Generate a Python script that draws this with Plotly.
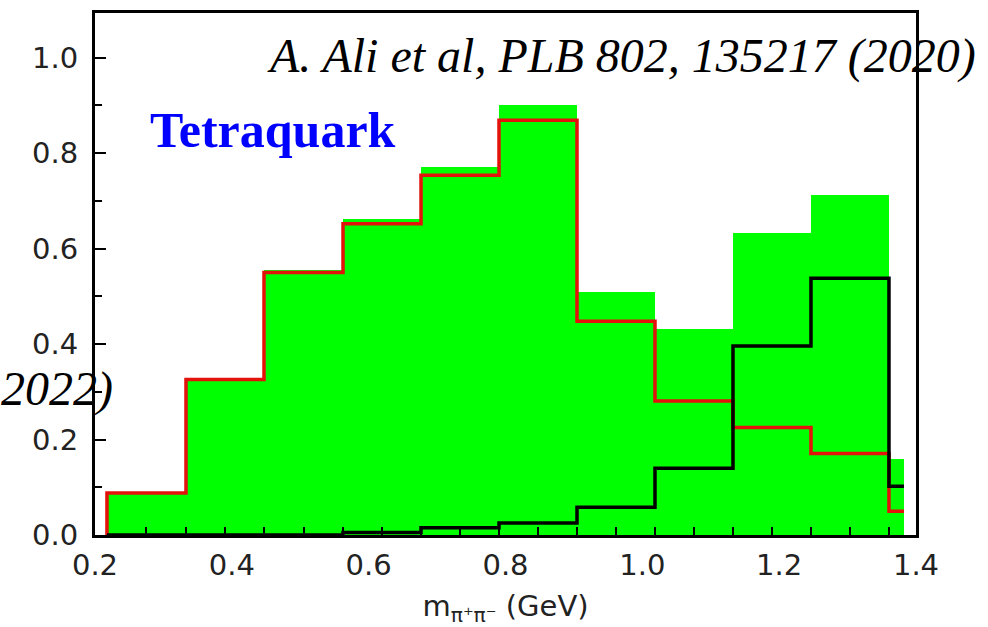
import plotly.graph_objects as go

# bin edges (GeV) of the histogram
edges = [0.2175, 0.333, 0.447, 0.5625, 0.6765, 0.7905, 0.9045, 1.0185, 1.1325, 1.2465, 1.3605, 1.3824]
# green filled histogram
green_vals = [0.090, 0.325, 0.556, 0.663, 0.771, 0.900, 0.510, 0.431, 0.633, 0.713, 0.160]
# red step line
red_vals = [0.088, 0.326, 0.550, 0.652, 0.754, 0.869, 0.448, 0.281, 0.225, 0.171, 0.050]
# black step line
black_vals = [0.0, 0.0, 0.0, 0.005, 0.015, 0.025, 0.058, 0.140, 0.396, 0.538, 0.102]

x_tick_labels = [0.2, 0.4, 0.6, 0.8, 1.0, 1.2, 1.4]
y_tick_labels = [0.0, 0.2, 0.4, 0.6, 0.8, 1.0]

centers = [(a + b) / 2 for a, b in zip(edges[:-1], edges[1:])]
widths = [b - a for a, b in zip(edges[:-1], edges[1:])]

def step_xy(vals):
    xs = [edges[0]] + edges[:-1] + [edges[-1]]
    ys = [0.0] + list(vals) + [vals[-1]]
    return xs, ys

fig = go.Figure()
fig.add_trace(go.Bar(x=centers, y=green_vals, width=widths,
                     marker=dict(color="#00ff00", line=dict(width=0)),
                     showlegend=False, hoverinfo="skip"))
rx, ry = step_xy(red_vals)
fig.add_trace(go.Scatter(x=rx, y=ry, mode="lines", line=dict(color="#e3120b", width=3.5, shape="hv"),
                         showlegend=False, hoverinfo="skip"))
bx, by = step_xy(black_vals)
fig.add_trace(go.Scatter(x=bx, y=by, mode="lines", line=dict(color="#000000", width=3.5, shape="hv"),
                         showlegend=False, hoverinfo="skip"))
# invisible helper trace so the label axis is drawn
fig.add_trace(go.Scatter(x=[x_tick_labels[0], x_tick_labels[-1]], y=[0, 0], xaxis="x2",
                         mode="markers", marker=dict(opacity=0), showlegend=False, hoverinfo="skip"))

# tick marks at bin centres and inner edges
tick_x = sorted(centers[:-1] + edges[1:-1])

tickfont = dict(family="DejaVu Sans", size=29, color="#222222")

fig.update_layout(
    width=988, height=627,
    margin=dict(l=95, r=72, t=10, b=92),
    paper_bgcolor="white", plot_bgcolor="white",
    bargap=0,
    xaxis=dict(
        range=[0.2, 1.4], tickmode="array", tickvals=tick_x, showticklabels=False,
        ticks="inside", ticklen=8, tickwidth=2, tickcolor="black",
        showgrid=False, zeroline=False,
        showline=True, linecolor="black", linewidth=3, mirror=True,
    ),
    xaxis2=dict(
        range=[0.2, 1.4], overlaying="x", anchor="y", side="bottom",
        tickmode="array", tickvals=x_tick_labels,
        ticktext=[f"{v:.1f}" for v in x_tick_labels],
        ticks="", showgrid=False, zeroline=False, showline=False,
        tickfont=tickfont, ticklabelstandoff=10,
        title=dict(text="m<sub>π⁺π⁻</sub> (GeV)", font=dict(family="DejaVu Sans", size=29, color="#222222"),
                   standoff=14),
    ),
    yaxis=dict(
        range=[0, 1.09375], tickmode="array", tickvals=y_tick_labels,
        ticktext=[f"{v:.1f}" for v in y_tick_labels],
        ticks="inside", ticklen=11, tickwidth=2, tickcolor="black",
        showgrid=False, zeroline=False,
        showline=True, linecolor="black", linewidth=3, mirror=True,
        tickfont=tickfont, ticklabelstandoff=8,
        minor=dict(dtick=0.1, tick0=0, ticks="inside", ticklen=7, tickwidth=2,
                   tickcolor="black", showgrid=False),
    ),
    annotations=[
        dict(text="<i>A. Ali et al, PLB 802, 135217 (2020)</i>", xref="paper", yref="paper",
             x=0.207, y=0.918, xanchor="left", yanchor="middle", showarrow=False,
             font=dict(family="Liberation Serif", size=48, color="black")),
        dict(text="<b>Tetraquark</b>", xref="paper", yref="paper",
             x=0.0646, y=0.775, xanchor="left", yanchor="middle", showarrow=False,
             font=dict(family="Liberation Serif", size=50, color="#0000ff")),
        dict(text="<i>2022)</i>", xref="paper", yref="paper",
             x=0.0244, y=0.28, xanchor="right", yanchor="middle", showarrow=False,
             font=dict(family="Liberation Serif", size=48, color="black")),
    ],
)

fig.write_html("out.html")
